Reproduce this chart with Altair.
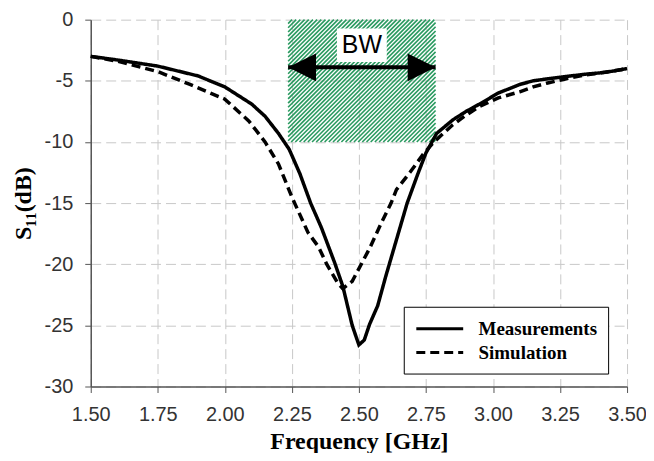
import altair as alt
import pandas as pd

# ---------------- data ----------------
meas_freq = [1.50, 1.60, 1.75, 1.90, 2.00, 2.10, 2.15, 2.20, 2.24, 2.28, 2.32, 2.36,
             2.41, 2.44, 2.475, 2.50, 2.52, 2.54, 2.57, 2.60, 2.64, 2.68, 2.72, 2.75,
             2.79, 2.85, 2.90, 2.95, 3.02, 3.10, 3.15, 3.20, 3.27, 3.35, 3.40, 3.45, 3.50]
meas_s11 = [-3.0, -3.3, -3.8, -4.6, -5.5, -6.9, -7.9, -9.3, -10.6, -12.6, -15.0, -17.0,
            -19.9, -21.8, -25.0, -26.6, -26.2, -24.9, -23.4, -21.0, -18.0, -15.0, -12.6, -10.9,
            -9.3, -8.2, -7.5, -6.9, -6.0, -5.3, -5.0, -4.85, -4.65, -4.45, -4.35, -4.2, -4.0]

sim_freq = [1.50, 1.60, 1.75, 1.87, 2.00, 2.09, 2.15, 2.20, 2.25, 2.31, 2.35, 2.38,
            2.42, 2.44, 2.475, 2.54, 2.58, 2.62, 2.64, 2.69, 2.74, 2.78, 2.85, 2.90,
            2.95, 3.02, 3.10, 3.15, 3.20, 3.27, 3.35, 3.42, 3.50]
sim_s11 = [-3.0, -3.4, -4.25, -5.3, -6.5, -8.3, -10.0, -11.8, -14.5, -17.4, -18.6, -20.0,
           -21.5, -22.0, -21.4, -18.7, -16.8, -15.0, -13.9, -12.5, -11.0, -10.0, -8.6, -7.8,
           -7.1, -6.4, -5.9, -5.5, -5.2, -4.85, -4.5, -4.3, -4.0]

series_names = ["Measurements", "Simulation"]

bw_start, bw_end = 2.236, 2.786
bw_top, bw_bottom = 0.0, -10.0
arrow_level = -3.9
bw_label = "BW"
bw_label_level = -2.1

x_domain = [1.5, 3.5]
y_domain = [-30, 0]
x_ticks = [1.50, 1.75, 2.00, 2.25, 2.50, 2.75, 3.00, 3.25, 3.50]
y_ticks = [0, -5, -10, -15, -20, -25, -30]

PLOT_W, PLOT_H = 538, 368

# ---------------- tables ----------------
curves = pd.DataFrame(
    [{"f": f, "s": s, "series": series_names[0]} for f, s in zip(meas_freq, meas_s11)]
    + [{"f": f, "s": s, "series": series_names[1]} for f, s in zip(sim_freq, sim_s11)]
)
arrow = pd.DataFrame([{"x1": bw_start, "x2": bw_end, "y": arrow_level}])
heads = pd.DataFrame([
    {"x": bw_start, "y": arrow_level, "side": "left"},
    {"x": bw_end, "y": arrow_level, "side": "right"},
])
mid = (bw_start + bw_end) / 2
label_df = pd.DataFrame([{"x": mid, "y": bw_label_level, "t": bw_label,
                          "bx1": mid - 0.093, "bx2": mid + 0.093, "by1": -0.72, "by2": -3.46}])

# hatch: 45-degree stripes clipped to the band rectangle (derived from band bounds)
kx = PLOT_W / (x_domain[1] - x_domain[0])
ky = PLOT_H / (y_domain[1] - y_domain[0])
W = (bw_end - bw_start) * kx
H = (bw_top - bw_bottom) * ky
step = 4.2
rows = []
c = -W + step / 2
while c < H:
    X1 = max(0.0, -c)
    X2 = min(W, H - c)
    if X2 > X1:
        rows.append({"x1": bw_start + X1 / kx, "y1": bw_bottom + (X1 + c) / ky,
                     "x2": bw_start + X2 / kx, "y2": bw_bottom + (X2 + c) / ky})
    c += step
stripes = pd.DataFrame(rows)

xscale = alt.Scale(domain=x_domain, nice=False, zero=False)
yscale = alt.Scale(domain=y_domain, nice=False)

xaxis = alt.Axis(values=x_ticks, format=".2f", title="Frequency [GHz]",
                 titleFont="Liberation Serif", titleFontSize=24, titleFontWeight="bold",
                 titleColor="black", titlePadding=5,
                 labelFont="Liberation Sans", labelFontSize=20, labelColor="#333333",
                 labelPadding=12, labelFlush=False,
                 tickSize=6, tickColor="#555555", tickWidth=1,
                 domainColor="#555555", domainWidth=1.5,
                 grid=True, gridColor="#c8c8c8", gridDash=[10, 5], gridWidth=1)
yaxis = alt.Axis(values=y_ticks, labelExpr="toString(datum.value)", title="S₁₁(dB)",
                 titleFont="Liberation Serif", titleFontSize=24, titleFontWeight="bold",
                 titleColor="black", titlePadding=9,
                 labelFont="Liberation Sans", labelFontSize=20, labelColor="#333333",
                 labelPadding=12,
                 tickSize=6, tickColor="#555555", tickWidth=1,
                 domainColor="#555555", domainWidth=1.5,
                 grid=True, gridColor="#c8c8c8", gridDash=[10, 5], gridWidth=1)

band_layer = alt.Chart(stripes).mark_rule(strokeWidth=1.6, color="#2a9a60").encode(
    x=alt.X("x1:Q", scale=xscale, axis=xaxis), x2="x2:Q",
    y=alt.Y("y1:Q", scale=yscale, axis=yaxis), y2="y2:Q")

label_box = alt.Chart(label_df).mark_rect(fill="white").encode(
    x="bx1:Q", x2="bx2:Q", y="by1:Q", y2="by2:Q")
label_text = alt.Chart(label_df).mark_text(font="Liberation Sans", fontSize=25,
                                           color="black", baseline="middle").encode(
    x="x:Q", y="y:Q", text="t:N")

arrow_line = alt.Chart(arrow).mark_rule(strokeWidth=4, color="black").encode(
    x="x1:Q", x2="x2:Q", y="y:Q")
left_head = alt.Chart(heads[heads.side == "left"]).mark_point(
    shape="M 0 0 L 2 -1 L 2 1 Z", size=784, filled=True, color="black", opacity=1).encode(
    x="x:Q", y="y:Q")
right_head = alt.Chart(heads[heads.side == "right"]).mark_point(
    shape="M 0 0 L -2 -1 L -2 1 Z", size=784, filled=True, color="black", opacity=1).encode(
    x="x:Q", y="y:Q")

lines = alt.Chart(curves).mark_line(strokeWidth=3.5, color="black").encode(
    x="f:Q", y="s:Q",
    strokeDash=alt.StrokeDash("series:N",
                              scale=alt.Scale(domain=series_names, range=[[1, 0], [9, 5]]),
                              legend=alt.Legend(title=None, orient="none", legendX=314, legendY=288,
                                                strokeColor="black", fillColor="white",
                                                padding=11, cornerRadius=0,
                                                symbolType="M -1 0 L 4 0", symbolSize=354,
                                                symbolStrokeWidth=3, symbolStrokeColor="black",
                                                symbolFillColor="transparent",
                                                labelFont="Liberation Serif", labelFontWeight="bold",
                                                labelFontSize=19, labelColor="black",
                                                labelOffset=42, rowPadding=3)),
)

chart = alt.layer(band_layer, label_box, label_text, arrow_line, left_head, right_head, lines).properties(
    width=PLOT_W, height=PLOT_H,
    autosize=alt.AutoSizeParams(type="none"),
    padding={"left": 83, "top": 11, "right": 19, "bottom": 66},
    background="white",
).configure_view(stroke=None)

chart.save("out.html", embed_options={"renderer": "svg", "actions": False})
